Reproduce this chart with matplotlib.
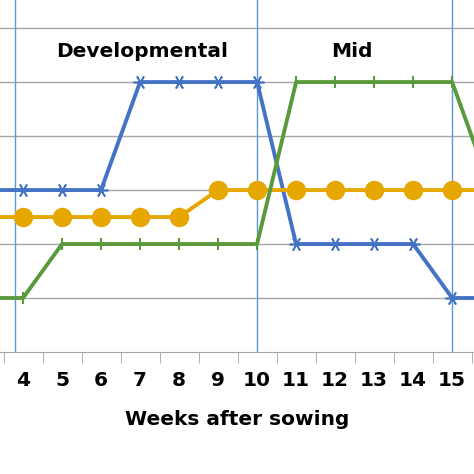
import matplotlib
matplotlib.use("Agg")
import matplotlib.pyplot as plt
import numpy as np

weeks = [3, 4, 5, 6, 7, 8, 9, 10, 11, 12, 13, 14, 15, 16]
blue = [3, 3, 3, 3, 5, 5, 5, 5, 2, 2, 2, 2, 1, 1]
orange = [2.5, 2.5, 2.5, 2.5, 2.5, 2.5, 3, 3, 3, 3, 3, 3, 3, 3]
green = [1, 1, 2, 2, 2, 2, 2, 2, 5, 5, 5, 5, 5, 3]
tick_weeks = list(range(4, 16))
phase_lines = [3.8, 10.0, 15.0]
phase_labels = ["Developmental", "Mid"]

fig = plt.figure(figsize=(4.74, 4.74), dpi=100)
ax = fig.add_axes([0, 122/474, 1, 352/474])
ax.set_xlim(3.41, 15.56)
ax.set_ylim(0, 6.52)
for y in range(1, 7):
    ax.axhline(y, color="#a6a6a6", lw=1, zorder=0)
for x in phase_lines:
    ax.axvline(x, color="#5b9bd5", lw=1, zorder=1)
ax.plot(weeks, blue, color="#4472c4", lw=2.8, marker=(6, 2, 90), ms=10, mew=1.2, zorder=3)
ax.plot(weeks, orange, color="#e6a700", lw=2.8, marker="o", ms=13, zorder=3)
ax.plot(weeks, green, color="#5b9a3c", lw=2.8, marker="|", ms=9, mew=1.5, zorder=3)
ax.text(7.05, 5.56, phase_labels[0], ha="center", va="center", fontsize=14.5, fontweight="bold")
ax.text(12.44, 5.56, phase_labels[1], ha="center", va="center", fontsize=14.5, fontweight="bold")
for s in ["top", "right", "left"]:
    ax.spines[s].set_visible(False)
ax.spines["bottom"].set_color("#a6a6a6")
ax.set_yticks([])
ax.set_xticks(tick_weeks)
ax.set_xticklabels([str(w) for w in tick_weeks], fontsize=14.5, fontweight="bold")
ax.tick_params(axis="x", length=0, pad=14)
ax.set_xticks(np.arange(3.5, 16, 1), minor=True)
ax.tick_params(axis="x", which="minor", length=8, color="#a6a6a6")
ax.set_xlabel("Weeks after sowing", fontsize=14.5, fontweight="bold", labelpad=14)
fig.savefig("out.png", dpi=100)
